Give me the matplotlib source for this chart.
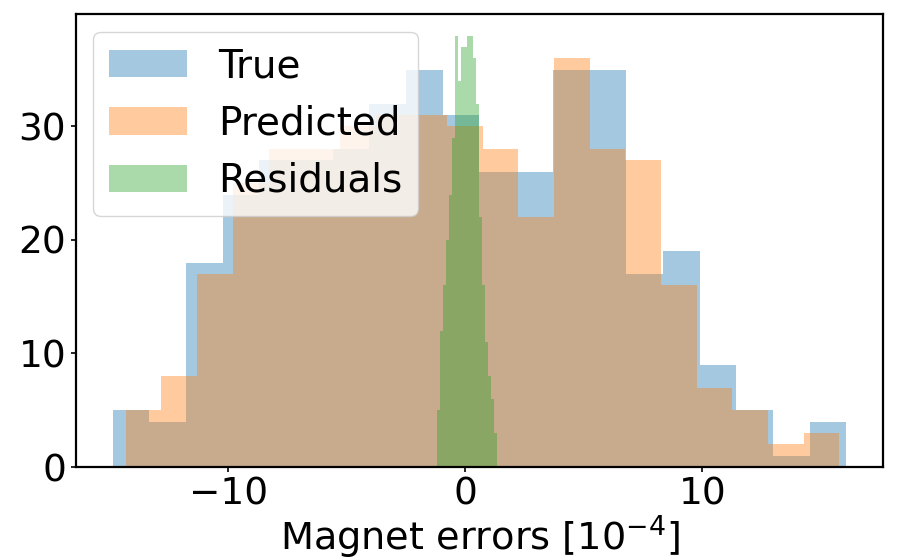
import numpy as np
import matplotlib
matplotlib.use('Agg')
import matplotlib.pyplot as plt

#### data ####
# bin counts, 20 bins each
true_counts = [5, 4, 18, 24, 27, 27, 28, 32, 35, 31, 26, 26, 35, 35, 17, 19, 9, 5, 1, 4]
pred_counts = [5, 8, 17, 25, 28, 28, 30, 31, 31, 30, 28, 22, 36, 28, 27, 16, 7, 5, 2, 3]
resid_counts = [5, 12, 16, 20, 24, 29, 38, 34, 37, 37, 38, 38, 36, 32, 22, 16, 11, 8, 6, 3]

# histogram ranges (min / max of each sample), in units of 1e-4
true_range = (-14.89, 16.08)
pred_range = (-14.33, 15.78)
resid_range = (-1.18, 1.35)

labels = ['True', 'Predicted', 'Residuals']
xticks = [-10, 0, 10]
yticks = [0, 10, 20, 30]


def edges_of(rng, n):
    return np.linspace(rng[0], rng[1], n + 1)


fig = plt.figure(figsize=(9.03, 5.6), dpi=100)
ax = fig.add_axes([0.084, 0.166, 0.894, 0.809])

for counts, rng, lab in zip([true_counts, pred_counts, resid_counts],
                            [true_range, pred_range, resid_range], labels):
    e = edges_of(rng, len(counts))
    ax.hist(e[:-1], bins=e, weights=counts, alpha=0.4, label=lab)

ax.set_xticks(xticks)
ax.set_yticks(yticks)
ax.tick_params(labelsize=27, width=1.2)
ax.set_xlabel('Magnet errors [$10^{-4}$]', fontsize=27.5, labelpad=0)
for s in ax.spines.values():
    s.set_linewidth(1.6)
ax.legend(loc='upper left', fontsize=28, borderaxespad=0.45)

fig.savefig('out.png', dpi=100)
